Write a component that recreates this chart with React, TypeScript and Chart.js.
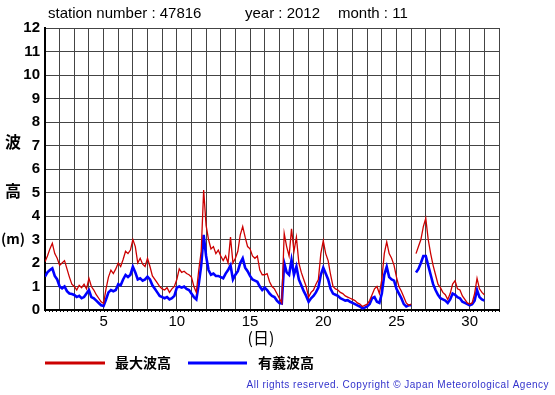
import React, { useEffect, useRef } from "react";
import { Chart, registerables } from "chart.js";

Chart.register(...registerables);

// 4-hourly samples starting day 1 00h (6 per day), null = missing
const maxWave: (number | null)[] = [
  2.05, 2.3, 2.6, 2.84, 2.4, 2.2,
  1.9, 2.0, 2.1, 1.75, 1.4, 1.1,
  1.0, 0.85, 1.05, 0.95, 1.1, 0.9,
  1.35, 1.0, 0.85, 0.65, 0.5, 0.35,
  0.28, 0.9, 1.4, 1.7, 1.55, 1.75,
  2.0, 1.85, 2.15, 2.5, 2.4, 2.55,
  3.0, 2.7, 2.0, 2.2, 1.95, 1.85,
  2.2, 1.85, 1.45, 1.3, 1.15, 1.0,
  0.9, 0.85, 0.95, 0.75, 0.9, 1.0,
  1.3, 1.75, 1.6, 1.65, 1.55, 1.5,
  1.4, 1.0, 0.75, 1.7, 2.5, 5.1,
  3.6, 3.0, 2.6, 2.7, 2.4, 2.55,
  2.3, 2.1, 2.3, 2.0, 3.1, 2.0,
  2.2, 2.5, 3.2, 3.55, 3.1, 2.7,
  2.6, 2.3, 2.2, 2.3, 1.7, 1.5,
  1.5, 1.55, 1.2, 1.0, 0.9, 0.7,
  0.5, 0.3, 3.26, 2.7, 2.3, 3.45,
  2.5, 3.1, 2.0, 1.6, 1.3, 1.0,
  0.55, 0.75, 0.85, 1.1, 1.3, 2.4,
  2.95, 2.4, 2.1, 1.5, 1.0, 0.9,
  0.85, 0.75, 0.7, 0.6, 0.55, 0.5,
  0.45, 0.4, 0.3, 0.25, 0.15, 0.2,
  0.25, 0.4, 0.65, 0.9, 1.0, 0.7,
  1.3, 2.4, 2.9, 2.4, 2.2, 1.9,
  1.4, 1.0, 0.8, 0.55, 0.3, 0.2,
  0.25, null, 2.4, 2.7, 3.0, 3.55,
  3.9, 3.0, 2.4, 1.9, 1.5, 1.1,
  0.95, 0.75, 0.65, 0.45, 0.7, 1.1,
  1.25, 0.9, 0.85, 0.6, 0.45, 0.3,
  0.25, 0.3, 0.7, 1.35, 0.9, 0.75,
  0.65,
];

const sigWave: (number | null)[] = [
  1.42, 1.6, 1.7, 1.77, 1.45, 1.3,
  1.0, 0.92, 1.0, 0.8, 0.7, 0.68,
  0.64, 0.55, 0.6, 0.5, 0.55, 0.7,
  0.85, 0.55, 0.5, 0.4, 0.3, 0.2,
  0.17, 0.45, 0.75, 0.85, 0.8, 0.85,
  1.1, 1.05, 1.3, 1.49, 1.4, 1.5,
  1.84, 1.6, 1.3, 1.35, 1.25, 1.3,
  1.42, 1.3, 1.05, 0.9, 0.75, 0.6,
  0.55, 0.5, 0.55, 0.45, 0.5, 0.6,
  0.95, 1.0, 0.95, 1.0, 0.9, 0.85,
  0.7, 0.55, 0.45, 1.1, 1.9, 3.2,
  2.3, 1.7, 1.5, 1.55, 1.45, 1.45,
  1.4, 1.35, 1.55, 1.7, 1.9, 1.3,
  1.5, 1.65, 2.0, 2.2, 1.8, 1.65,
  1.45, 1.3, 1.25, 1.2, 1.0, 0.85,
  0.95, 0.85, 0.7, 0.6, 0.55, 0.4,
  0.3, 0.28, 2.0, 1.6, 1.5, 2.13,
  1.5, 1.85, 1.3, 1.05, 0.8, 0.6,
  0.35, 0.5, 0.6, 0.75, 0.95, 1.5,
  1.8, 1.55, 1.3, 0.9, 0.7, 0.65,
  0.6, 0.5, 0.45, 0.4, 0.42, 0.35,
  0.3, 0.25, 0.2, 0.15, 0.07, 0.1,
  0.15, 0.25, 0.5, 0.55, 0.35, 0.3,
  0.7, 1.5, 1.84, 1.4, 1.3, 1.25,
  0.9, 0.7, 0.5, 0.25, 0.15, 0.2,
  0.2, null, 1.6, 1.75, 2.0, 2.3,
  2.3, 1.9, 1.5, 1.1, 0.85, 0.65,
  0.5, 0.45, 0.4, 0.3, 0.45, 0.7,
  0.65, 0.55, 0.5, 0.35, 0.3, 0.25,
  0.2, 0.25, 0.4, 0.85, 0.55, 0.45,
  0.4,
];

const firstDay = 1;
const samplesPerDay = 6;
const xLabelDays = [5, 10, 15, 20, 25, 30];
const seriesNames = ["最大波高", "有義波高"];
const seriesColors = ["#cc0000", "#0000ff"];
const titleParts = ["station number : 47816", "year : 2012", "month : 11"];
const yTitleChars = ["波", "高", "(m)"];
const xTitle = "(日)";
const copyright = "All rights reserved. Copyright \u00a9 Japan Meteorological Agency";

const toPoints = (arr: (number | null)[]) =>
  arr.map((v, i) => ({ x: firstDay + i / samplesPerDay, y: v }));

const textPlugin = {
  id: "texts",
  afterDraw(chart: any) {
    const ctx = chart.ctx as CanvasRenderingContext2D;
    const area = chart.chartArea;
    ctx.save();
    ctx.fillStyle = "#000";
    ctx.textBaseline = "middle";
    // title
    ctx.font = "15px 'Liberation Sans', Arial, sans-serif";
    ctx.textAlign = "left";
    const titleX = [48, 245, 338];
    titleParts.forEach((t, i) => ctx.fillText(t, titleX[i], 14));
    // y title
    ctx.font = "bold 16px 'Noto Sans CJK JP', sans-serif";
    ctx.textAlign = "center";
    ctx.fillText(yTitleChars[0], 13, 142);
    ctx.fillText(yTitleChars[1], 13, 191);
    ctx.font = "bold 14px 'Noto Sans CJK JP', sans-serif";
    ctx.fillText(yTitleChars[2], 13, 239);
    // x title
    ctx.font = "16px 'Noto Sans CJK JP', sans-serif";
    ctx.fillText(xTitle, 261, 338);
    // minor ticks below axis every 6h
    ctx.strokeStyle = "#000";
    ctx.lineWidth = 1;
    const xs = chart.scales.x;
    for (let d = xs.min; d <= xs.max + 1e-9; d += 0.25) {
      const px = Math.round(xs.getPixelForValue(d)) + 0.5;
      ctx.beginPath();
      ctx.moveTo(px, area.bottom);
      ctx.lineTo(px, area.bottom + 2);
      ctx.stroke();
    }
    // legend
    const legendY = 363;
    const items = [
      { x0: 45, x1: 105, tx: 115 },
      { x0: 188, x1: 247, tx: 258 },
    ];
    items.forEach((it, i) => {
      ctx.strokeStyle = seriesColors[i];
      ctx.lineWidth = 3;
      ctx.beginPath();
      ctx.moveTo(it.x0, legendY);
      ctx.lineTo(it.x1, legendY);
      ctx.stroke();
      ctx.fillStyle = "#000";
      ctx.font = "bold 14px 'Noto Sans CJK JP', sans-serif";
      ctx.textAlign = "left";
      ctx.fillText(seriesNames[i], it.tx, legendY);
    });
    // copyright
    ctx.fillStyle = "#3333cc";
    ctx.font = "10px 'Liberation Sans', Arial, sans-serif";
    ctx.textAlign = "right";
    (ctx as any).letterSpacing = "0.5px";
    ctx.fillText(copyright, 549, 385);
    ctx.restore();
  },
};

export default function App() {
  const ref = useRef<HTMLCanvasElement | null>(null);
  useEffect(() => {
    if (!ref.current) return;
    const chart = new Chart(ref.current, {
      type: "line",
      data: {
        datasets: [
          {
            label: seriesNames[0],
            data: toPoints(maxWave) as any,
            borderColor: seriesColors[0],
            borderWidth: 1.3,
            pointRadius: 0,
            tension: 0,
            spanGaps: false,
          },
          {
            label: seriesNames[1],
            data: toPoints(sigWave) as any,
            borderColor: seriesColors[1],
            borderWidth: 2.6,
            pointRadius: 0,
            tension: 0,
            spanGaps: false,
          },
        ],
      },
      options: {
        animation: false,
        responsive: false,
        maintainAspectRatio: false,
        layout: { padding: { top: 28, right: 56, left: 0, bottom: 0 } },
        plugins: { legend: { display: false }, tooltip: { enabled: false } },
        scales: {
          x: {
            type: "linear",
            min: 1,
            max: 32,
            afterFit: (s: any) => {
              s.height = 85;
            },
            ticks: {
              stepSize: 1,
              autoSkip: false,
              maxRotation: 0,
              padding: 3,
              color: "#000",
              font: { size: 15, family: "'Liberation Sans', Arial, sans-serif" },
              callback: (v: any) => (xLabelDays.includes(Number(v)) ? String(v) : ""),
            },
            grid: { color: "#444", lineWidth: 1, drawTicks: false },
            border: { color: "#000", width: 2 },
          },
          y: {
            min: 0,
            max: 12,
            afterFit: (s: any) => {
              s.width = 45;
            },
            ticks: {
              stepSize: 1,
              padding: 5,
              color: "#000",
              font: { size: 15, weight: "bold", family: "'Liberation Sans', Arial, sans-serif" },
            },
            grid: { color: "#444", lineWidth: 1, drawTicks: false },
            border: { color: "#000", width: 2 },
          },
        },
      },
      plugins: [textPlugin],
    });
    return () => chart.destroy();
  }, []);
  return (
    <div style={{ position: "absolute", left: 0, top: 0, width: 555, height: 395, background: "#fff" }}>
      <canvas ref={ref} width={555} height={395} style={{ width: 555, height: 395, display: "block" }} />
    </div>
  );
}
